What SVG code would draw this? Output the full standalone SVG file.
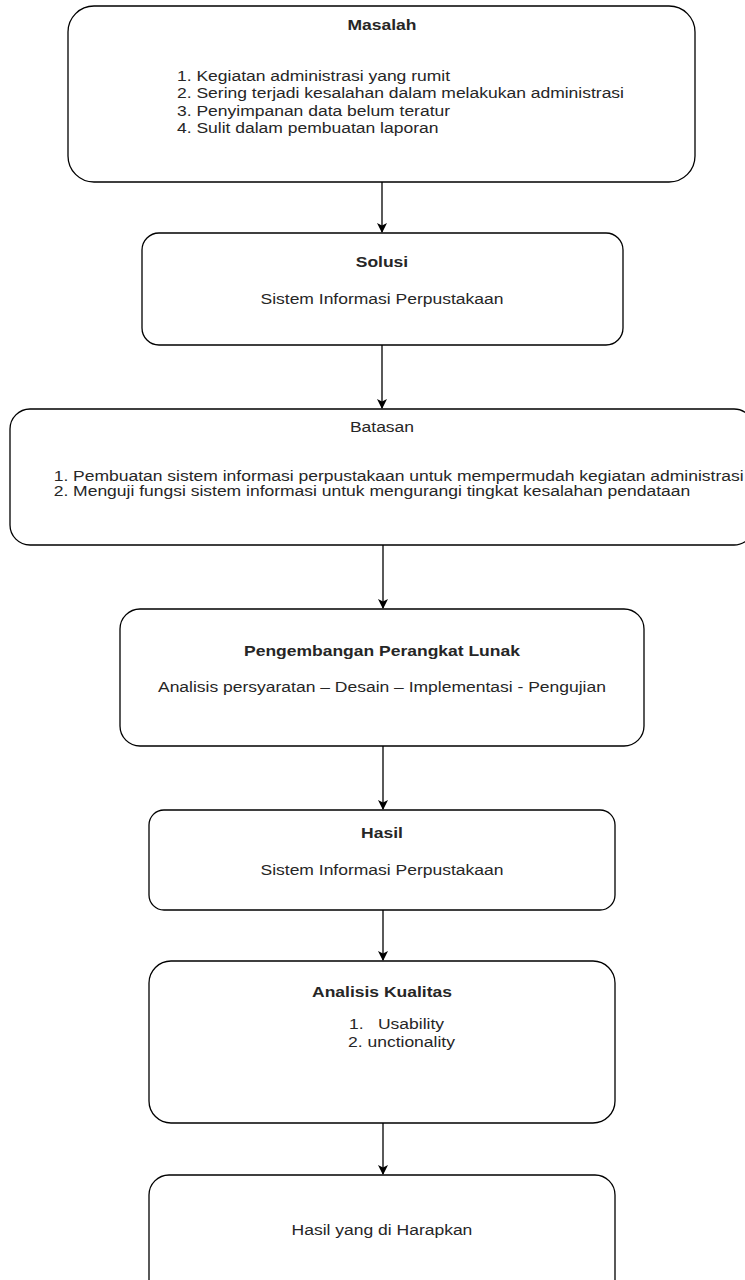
<svg xmlns="http://www.w3.org/2000/svg" width="745" height="1280" viewBox="0 0 745 1280">
  <defs>
    <style>
      .box { fill: #ffffff; stroke: #000000; stroke-width: 1.3; }
      .t { font-family: "Liberation Sans", Arial, sans-serif; font-size: 15px; fill: #262626; }
      .b { font-weight: bold; }
      .c { text-anchor: middle; }
      .edge { stroke: #000000; stroke-width: 1.3; fill: none; marker-end: url(#arrow); }
    </style>
    <marker id="arrow" viewBox="0 0 10 10" refX="9" refY="5" markerWidth="10" markerHeight="10" markerUnits="userSpaceOnUse" orient="auto">
      <path d="M0,0 L10,5 L0,10 L2.5,5 Z" fill="#000000"/>
    </marker>
  </defs>
  <rect width="745" height="1280" fill="#ffffff"/>

  <g id="edges">
    <line class="edge" x1="382" y1="182" x2="382" y2="232"/>
    <line class="edge" x1="382" y1="345" x2="382" y2="408"/>
    <line class="edge" x1="383" y1="545" x2="383" y2="608"/>
    <line class="edge" x1="383" y1="746" x2="383" y2="809"/>
    <line class="edge" x1="383" y1="910" x2="383" y2="960"/>
    <line class="edge" x1="383" y1="1123" x2="383" y2="1174"/>
  </g>

  <g id="masalah">
    <rect class="box" x="68" y="6" width="627" height="176" rx="26" ry="26"/>
    <g transform="scale(1.1667 1)">
      <text class="t b c" x="327.4" y="30">Masalah</text>
      <text class="t" x="151.7" y="81">1. Kegiatan administrasi yang rumit</text>
      <text class="t" x="151.7" y="98.5">2. Sering terjadi kesalahan dalam melakukan administrasi</text>
      <text class="t" x="151.7" y="116">3. Penyimpanan data belum teratur</text>
      <text class="t" x="151.7" y="133.5">4. Sulit dalam pembuatan laporan</text>
    </g>
  </g>

  <g id="solusi">
    <rect class="box" x="142" y="233" width="481" height="112" rx="17" ry="17"/>
    <g transform="scale(1.1667 1)">
      <text class="t b c" x="327.4" y="267">Solusi</text>
      <text class="t c" x="327.4" y="304">Sistem Informasi Perpustakaan</text>
    </g>
  </g>

  <g id="batasan">
    <rect class="box" x="10" y="409" width="744" height="136" rx="20" ry="20"/>
    <g transform="scale(1.1667 1)">
      <text class="t c" x="327.4" y="432">Batasan</text>
      <text class="t" x="46" y="481">1. Pembuatan sistem informasi perpustakaan untuk mempermudah kegiatan administrasi</text>
      <text class="t" x="46" y="496.5">2. Menguji fungsi sistem informasi untuk mengurangi tingkat kesalahan pendataan</text>
    </g>
  </g>

  <g id="pengembangan">
    <rect class="box" x="120" y="609" width="524" height="137" rx="20" ry="20"/>
    <g transform="scale(1.1667 1)">
      <text class="t b c" x="327.4" y="656">Pengembangan Perangkat Lunak</text>
      <text class="t c" x="327.4" y="692">Analisis persyaratan – Desain – Implementasi - Pengujian</text>
    </g>
  </g>

  <g id="hasil">
    <rect class="box" x="149" y="810" width="466" height="100" rx="15" ry="15"/>
    <g transform="scale(1.1667 1)">
      <text class="t b c" x="327.4" y="838">Hasil</text>
      <text class="t c" x="327.4" y="875">Sistem Informasi Perpustakaan</text>
    </g>
  </g>

  <g id="analisis">
    <rect class="box" x="149" y="961" width="466" height="162" rx="22" ry="22"/>
    <g transform="scale(1.1667 1)">
      <text class="t b c" x="327.4" y="997">Analisis Kualitas</text>
      <text class="t" x="299.1" y="1029">1.</text>
      <text class="t" x="324" y="1029">Usability</text>
      <text class="t" x="298.3" y="1047">2. unctionality</text>
    </g>
  </g>

  <g id="harapan">
    <rect class="box" x="149" y="1175" width="466" height="130" rx="20" ry="20"/>
    <g transform="scale(1.1667 1)">
      <text class="t c" x="327.4" y="1235">Hasil yang di Harapkan</text>
    </g>
  </g>
</svg>
